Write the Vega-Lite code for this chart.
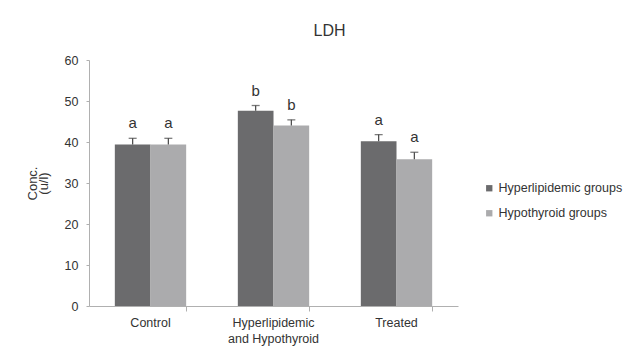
{
  "$schema": "https://vega.github.io/schema/vega-lite/v6.json",
  "width": 369,
  "height": 246,
  "autosize": "none",
  "padding": {"left": 89, "top": 60, "right": 185, "bottom": 48},
  "background": "white",
  "config": {
    "font": "Liberation Sans",
    "view": {"stroke": null},
    "axis": {"grid": false, "domainColor": "#b0b0b0", "tickColor": "#b0b0b0", "labelColor": "#333333", "titleColor": "#333333"}
  },
  "title": {"text": "LDH", "fontSize": 16, "fontWeight": "normal", "color": "#333333", "anchor": "middle", "dx": 56, "offset": 15},
  "data": {"values": [
    {"group": "Control", "series": "Hyperlipidemic groups", "value": 39.4, "err": 40.9, "letter": "a"},
    {"group": "Control", "series": "Hypothyroid groups", "value": 39.4, "err": 40.9, "letter": "a"},
    {"group": "Hyperlipidemic and Hypothyroid", "series": "Hyperlipidemic groups", "value": 47.6, "err": 48.9, "letter": "b"},
    {"group": "Hyperlipidemic and Hypothyroid", "series": "Hypothyroid groups", "value": 44.0, "err": 45.4, "letter": "b"},
    {"group": "Treated", "series": "Hyperlipidemic groups", "value": 40.2, "err": 41.8, "letter": "a"},
    {"group": "Treated", "series": "Hypothyroid groups", "value": 35.8, "err": 37.5, "letter": "a"}
  ]},
  "encoding": {
    "xOffset": {"field": "series", "type": "nominal", "scale": {"paddingInner": 0, "paddingOuter": 0}}
  },
  "layer": [
    {
      "mark": {"type": "bar"},
      "encoding": {
        "x": {"field": "group", "type": "nominal", "sort": ["Control", "Hyperlipidemic and Hypothyroid", "Treated"],
          "scale": {"paddingInner": 0.42, "paddingOuter": 0.21},
          "axis": {"title": null, "orient": "bottom", "ticks": false, "labelAngle": 0, "labelFontSize": 12.5, "labelPadding": 10, "labelBaseline": "top", "labelLineHeight": 16,
            "labelExpr": "datum.label == 'Hyperlipidemic and Hypothyroid' ? ['Hyperlipidemic', 'and Hypothyroid'] : datum.label"}},
        "y": {"field": "value", "type": "quantitative", "scale": {"domain": [0, 60]},
          "axis": {"values": [0, 10, 20, 30, 40, 50, 60], "title": ["Conc.", "(u/l)"], "titleFontSize": 13, "titleFontWeight": "normal", "titleLineHeight": 11, "titlePadding": 14,
            "tickSize": 3, "labelFontSize": 12.5, "labelPadding": 8}},
        "color": {"field": "series", "type": "nominal", "scale": {"range": ["#6b6b6d", "#ababad"]},
          "legend": {"title": null, "orient": "none", "legendX": 394, "legendY": 122, "symbolType": "square", "symbolSize": 40, "labelFontSize": 12.5, "labelColor": "#333333", "labelOffset": 3, "rowPadding": 12, "symbolStrokeWidth": 0}}
      }
    },
    {
      "mark": {"type": "rule", "color": "#444444", "strokeWidth": 1.2},
      "encoding": {
        "x": {"field": "group", "type": "nominal", "sort": ["Control", "Hyperlipidemic and Hypothyroid", "Treated"],
          "axis": {"title": null, "orient": "bottom", "bandPosition": 1, "labels": false, "domain": false, "ticks": true, "tickSize": 5}},
        "y": {"field": "value", "type": "quantitative"},
        "y2": {"field": "err"}
      }
    },
    {
      "mark": {"type": "tick", "color": "#444444", "size": 8, "thickness": 1.3},
      "encoding": {
        "x": {"field": "group", "type": "nominal", "sort": ["Control", "Hyperlipidemic and Hypothyroid", "Treated"], "axis": null},
        "y": {"field": "err", "type": "quantitative"}
      }
    },
    {
      "mark": {"type": "text", "fontSize": 15, "color": "#333333", "baseline": "middle", "dy": -15},
      "encoding": {
        "x": {"field": "group", "type": "nominal", "sort": ["Control", "Hyperlipidemic and Hypothyroid", "Treated"], "axis": null},
        "y": {"field": "err", "type": "quantitative"},
        "text": {"field": "letter"}
      }
    }
  ],
  "resolve": {"axis": {"x": "independent"}}
}
